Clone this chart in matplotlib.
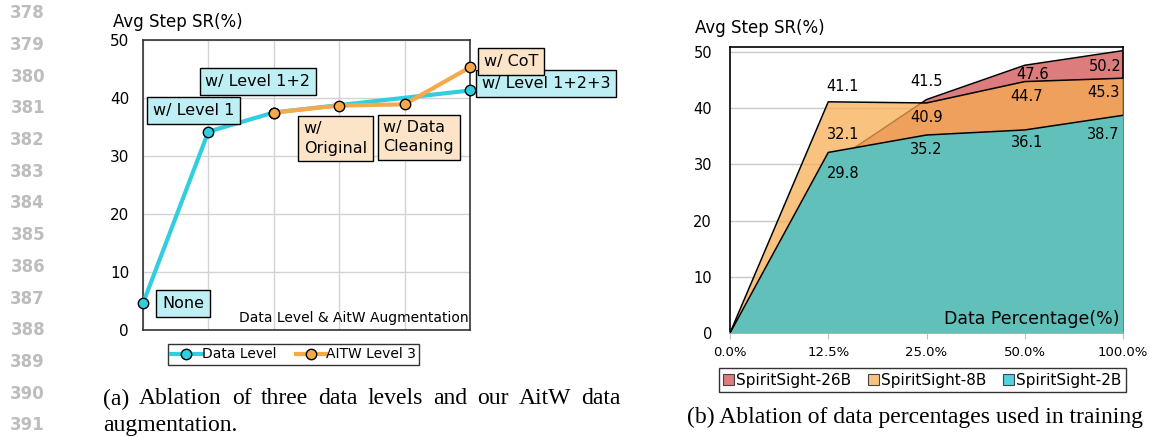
import matplotlib
matplotlib.use("Agg")
import matplotlib.pyplot as plt
import numpy as np
from matplotlib.lines import Line2D
from matplotlib.patches import Patch

# ---- data: (a) data levels / AitW augmentation ----
level_x = [0, 1, 2, 5]
level_sr = [4.6, 34.2, 37.5, 41.3]
level_names = ["None", "w/ Level 1", "w/ Level 1+2", "w/ Level 1+2+3"]

aitw_x = [2, 3, 4, 5]
aitw_sr = [37.5, 38.7, 38.9, 45.3]
aitw_names = [None, "w/\nOriginal", "w/ Data\nCleaning", "w/ CoT"]

# ---- data: (b) data percentage ----
pct_labels = ["0.0%", "12.5%", "25.0%", "50.0%", "100.0%"]
sr_26b = [0, 29.8, 41.5, 47.6, 50.2]
sr_8b = [0, 41.1, 40.9, 44.7, 45.3]
sr_2b = [0, 32.1, 35.2, 36.1, 38.7]

W, H = 1150, 437
CYAN = "#33CDE0"
ORANGE = "#F5A94A"
CYAN_BOX = "#BDEFF5"
ORANGE_BOX = "#FCE4C8"
RED_AREA = "#DC7C7C"
ORANGE_AREA = "#F7AD52"
TEAL_AREA = "#62C0BB"

plt.rcParams["font.family"] = ["DejaVu Sans"]
SERIF = ["Liberation Serif", "DejaVu Serif"]

fig = plt.figure(figsize=(W / 100, H / 100), dpi=100)


def px_axes(x0, y0, x1, y1):
    # pixel box (top-left origin) -> figure axes
    return fig.add_axes([x0 / W, 1 - y1 / H, (x1 - x0) / W, (y1 - y0) / H])


def fig_text(px, py, s, **kw):
    return fig.text(px / W, 1 - py / H, s, **kw)


# ================= left chart =================
ax = px_axes(143, 40, 470, 330)
ax.set_xlim(0, 5)
ax.set_ylim(0, 50)
ax.set_xticks(range(6))
ax.set_xticklabels([])
ax.set_yticks(range(0, 51, 10))
ax.tick_params(length=0, labelsize=11, pad=10)
ax.grid(True, color="#D3D3D3", lw=1)
ax.set_axisbelow(True)
for sp in ax.spines.values():
    sp.set_color("#333333")
    sp.set_linewidth(1.2)

ax.plot(level_x, level_sr, color=CYAN, lw=3, marker="o", ms=7.5,
        mfc=CYAN, mec="black", mew=1, zorder=3, clip_on=False)
ax.plot(aitw_x, aitw_sr, color=ORANGE, lw=3, marker="o", ms=7.5,
        mfc=ORANGE, mec="black", mew=1, zorder=4, clip_on=False)

level_off = [(40, 0), (-15, 21), (-16, 31), (76, 7)]
aitw_off = [None, (-4, -33), (14, -33), (41, 6)]


def callout(x, y, s, off, face):
    ax.annotate(s, xy=(x, y), xytext=off, textcoords="offset pixels",
                ha="center", va="center", fontsize=11.5, linespacing=1.35,
                multialignment="left", zorder=6, annotation_clip=False,
                bbox=dict(boxstyle="square,pad=0.36", fc=face, ec="black", lw=1))


for x, y, s, off in zip(level_x, level_sr, level_names, level_off):
    callout(x, y, s, off, CYAN_BOX)
for x, y, s, off in zip(aitw_x, aitw_sr, aitw_names, aitw_off):
    if s:
        callout(x, y, s, off, ORANGE_BOX)

fig_text(113, 22, "Avg Step SR(%)", fontsize=12, va="center", ha="left")
ax.text(0.995, 0.04, "Data Level & AitW Augmentation", transform=ax.transAxes,
        ha="right", va="center", fontsize=10)

h1 = [Line2D([], [], color=CYAN, lw=3, marker="o", ms=7.5, mfc=CYAN, mec="black"),
      Line2D([], [], color=ORANGE, lw=3, marker="o", ms=7.5, mfc=ORANGE, mec="black")]
leg = fig.legend(h1, ["Data Level", "AITW Level 3"], ncol=2, loc="center",
                 bbox_to_anchor=(293.5 / W, 1 - 354.5 / H), fontsize=10,
                 frameon=True, fancybox=False, edgecolor="black",
                 handlelength=2.2, handletextpad=0.0, columnspacing=1.4,
                 borderpad=0.25)
leg.get_frame().set_linewidth(1)

# ================= right chart =================
bx = px_axes(730, 46.7, 1123, 333)
xs = np.arange(len(pct_labels))
bx.set_xlim(0, len(pct_labels) - 1)
bx.set_ylim(0, 50.9)
bx.set_yticks(range(0, 51, 10))
bx.set_xticks(xs)
bx.set_xticklabels(pct_labels)
bx.tick_params(axis="y", length=0, labelsize=10.5, pad=13)
bx.tick_params(axis="x", length=4, color="#BFBFBF", labelsize=9.5, pad=5)
bx.yaxis.grid(True, color="#C8C8C8", lw=1)
bx.set_axisbelow(True)
for k, sp in bx.spines.items():
    sp.set_color("black" if k != "bottom" else "#BFBFBF")
    sp.set_linewidth(1.2)

bx.fill_between(xs, 0, sr_26b, color=RED_AREA, lw=0, zorder=2)
bx.plot(xs, sr_26b, color="black", lw=1.1, zorder=2)
bx.fill_between(xs, 0, sr_8b, color=ORANGE_AREA, alpha=0.74, lw=0, zorder=3)
bx.plot(xs, sr_8b, color="black", lw=1.1, zorder=3)
bx.fill_between(xs, 0, sr_2b, color=TEAL_AREA, lw=0, zorder=4)
bx.plot(xs, sr_2b, color="black", lw=1.1, zorder=4)

lab_off = {
    "26b": [None, (15, -8), (0, 18), (8, -9), (-18, -16)],
    "8b": [None, (14, 15), (0, -15), (2, -15), (-20, -14)],
    "2b": [None, (15, 18), (0, -14), (2, -13), (-20, -19)],
}
for key, vals in (("26b", sr_26b), ("8b", sr_8b), ("2b", sr_2b)):
    for i, v in enumerate(vals):
        off = lab_off[key][i]
        if off is None:
            continue
        bx.annotate(f"{v:.1f}", xy=(i, v), xytext=off, textcoords="offset pixels",
                    ha="center", va="center", fontsize=10.5, zorder=6,
                    annotation_clip=False)

fig_text(695, 28, "Avg Step SR(%)", fontsize=12, va="center", ha="left")
bx.text(0.99, 0.05, "Data Percentage(%)", transform=bx.transAxes,
        ha="right", va="center", fontsize=12.5, zorder=7)

h2 = [Patch(fc=RED_AREA, ec="#444444", lw=0.8),
      Patch(fc="#F9C27E", ec="#444444", lw=0.8),
      Patch(fc="#4FD2E2", ec="#444444", lw=0.8)]
leg2 = fig.legend(h2, ["SpiritSight-26B", "SpiritSight-8B", "SpiritSight-2B"],
                  ncol=3, loc="center", bbox_to_anchor=(922.5 / W, 1 - 380 / H),
                  fontsize=11, frameon=True, fancybox=False, edgecolor="black",
                  handlelength=0.7, handleheight=0.7, handletextpad=0.15,
                  columnspacing=1.1, borderpad=0.3)
leg2.get_frame().set_linewidth(1)

# ================= captions and line numbers =================
renderer = fig.canvas.get_renderer()


def justified(words_line, x0, x1, py, **kw):
    words = words_line.split()
    items = [fig_text(0, py, w, va="center", ha="left", **kw) for w in words]
    widths = [t.get_window_extent(renderer).width for t in items]
    gap = (x1 - x0 - sum(widths)) / max(len(words) - 1, 1)
    x = x0
    for t, w in zip(items, widths):
        t.set_x(x / W)
        x += w + gap


cap_kw = dict(fontsize=17, family=SERIF)
justified("(a) Ablation of three data levels and our AitW data", 103, 620, 399, **cap_kw)
fig_text(103, 425, "augmentation.", va="center", ha="left", **cap_kw)
fig_text(687, 417, "(b) Ablation of data percentages used in training",
         va="center", ha="left", **cap_kw)

for k, num in enumerate(range(378, 392)):
    fig_text(45, 13.3 + k * 31.7, str(num), ha="right", va="center",
             fontsize=12, fontweight="bold", color="#BDBDBD",
             family=["DejaVu Sans"])

fig.savefig("out.png", dpi=100)
